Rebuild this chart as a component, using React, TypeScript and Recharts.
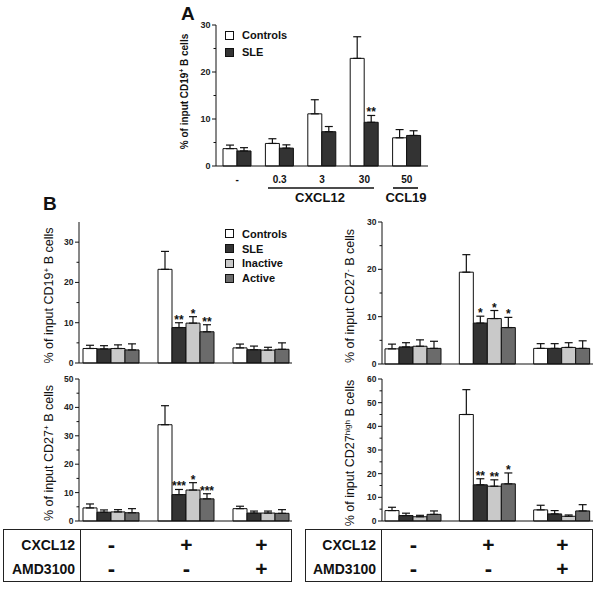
import React from 'react';
import { BarChart, Bar, XAxis, YAxis, ErrorBar, Legend } from 'recharts';

const FONT = '"Liberation Sans", Arial, Helvetica, sans-serif';
const INK = '#111111';

const FILL_CONTROLS = '#ffffff';
const FILL_SLE = '#333333';
const FILL_INACTIVE = '#c9c9c9';
const FILL_ACTIVE = '#6b6b6b';

// ---- panel A : chemokine doses
const doses = ['-', '0.3', '3', '30', '50'];
const aControls = [3.7, 4.8, 11.1, 22.9, 6.0];
const aControlsErr = [0.75, 1.0, 3.0, 4.6, 1.75];
const aControlsStars = ['', '', '', '', ''];
const aSle = [3.2, 3.8, 7.3, 9.3, 6.5];
const aSleErr = [0.7, 0.7, 1.1, 1.45, 1.0];
const aSleStars = ['', '', '', '**', ''];
const aTicks = [0, 5, 10, 15, 20, 25, 30];

// ---- panel B : conditions
const conditions = ['none', 'CXCL12', 'CXCL12 + AMD3100'];
const cxcl12Row = ['-', '+', '+'];
const amdRow = ['-', '-', '+'];
const noStars = ['', '', ''];

// CD19+ B cells
const cd19Controls = [3.6, 23.25, 3.75];
const cd19ControlsErr = [0.8, 4.45, 0.95];
const cd19Sle = [3.5, 8.8, 3.3];
const cd19SleErr = [0.8, 1.2, 0.9];
const cd19SleStars = ['', '**', ''];
const cd19Inactive = [3.6, 9.9, 3.2];
const cd19InactiveErr = [0.9, 1.6, 0.7];
const cd19InactiveStars = ['', '*', ''];
const cd19Active = [3.25, 7.75, 3.4];
const cd19ActiveErr = [1.5, 1.75, 1.6];
const cd19ActiveStars = ['', '**', ''];
const cd19Ticks = [0, 5, 10, 15, 20, 25, 30];

// CD27- B cells
const cd27negControls = [3.2, 19.4, 3.3];
const cd27negControlsErr = [1.0, 3.7, 1.0];
const cd27negSle = [3.6, 8.65, 3.3];
const cd27negSleErr = [0.9, 1.45, 1.0];
const cd27negSleStars = ['', '*', ''];
const cd27negInactive = [3.75, 9.6, 3.5];
const cd27negInactiveErr = [1.35, 1.7, 1.0];
const cd27negInactiveStars = ['', '*', ''];
const cd27negActive = [3.3, 7.7, 3.3];
const cd27negActiveErr = [1.5, 2.15, 1.6];
const cd27negActiveStars = ['', '*', ''];
const cd27negTicks = [0, 5, 10, 15, 20, 25, 30];

// CD27+ B cells
const cd27posControls = [4.6, 33.9, 4.35];
const cd27posControlsErr = [1.4, 6.7, 0.85];
const cd27posSle = [3.1, 9.3, 2.8];
const cd27posSleErr = [0.8, 1.8, 0.7];
const cd27posSleStars = ['', '***', ''];
const cd27posInactive = [3.2, 10.9, 2.8];
const cd27posInactiveErr = [0.8, 2.6, 0.7];
const cd27posInactiveStars = ['', '*', ''];
const cd27posActive = [2.9, 7.8, 2.7];
const cd27posActiveErr = [1.45, 1.8, 1.3];
const cd27posActiveStars = ['', '***', ''];
const cd27posTicks = [0, 5, 10, 15, 20, 25, 30, 35, 40, 45, 50];

// CD27high B cells
const cd27hiControls = [4.4, 45, 4.7];
const cd27hiControlsErr = [1.4, 10.5, 1.95];
const cd27hiSle = [2.3, 15.3, 3.0];
const cd27hiSleErr = [1.0, 2.55, 1.4];
const cd27hiSleStars = ['', '**', ''];
const cd27hiInactive = [1.8, 14.7, 2.0];
const cd27hiInactiveErr = [0.6, 2.7, 0.55];
const cd27hiInactiveStars = ['', '**', ''];
const cd27hiActive = [2.8, 15.7, 4.25];
const cd27hiActiveErr = [1.45, 4.6, 2.65];
const cd27hiActiveStars = ['', '*', ''];
const cd27hiTicks = [0, 5, 10, 15, 20, 25, 30, 35, 40, 45, 50, 55, 60];

type Series = { key: string; name: string; fill: string; vals: number[]; errs: number[]; stars: string[] };

const fourGroups = (
  c: number[], ce: number[],
  s: number[], se: number[], ss: string[],
  i: number[], ie: number[], is: string[],
  a: number[], ae: number[], as: string[]
): Series[] => [
  { key: 'controls', name: 'Controls', fill: FILL_CONTROLS, vals: c, errs: ce, stars: noStars },
  { key: 'sle', name: 'SLE', fill: FILL_SLE, vals: s, errs: se, stars: ss },
  { key: 'inactive', name: 'Inactive', fill: FILL_INACTIVE, vals: i, errs: ie, stars: is },
  { key: 'active', name: 'Active', fill: FILL_ACTIVE, vals: a, errs: ae, stars: as },
];

const toRows = (cats: string[], series: Series[]) =>
  cats.map((cat, i) => {
    const row: any = { cat };
    series.forEach((s) => {
      row[s.key] = s.vals[i];
      row[s.key + 'Err'] = [0, s.errs[i]];
    });
    return row;
  });

// y ticks: long tick + label on majors, short tick on minors
const yTick = (major: number, fs: number) => (p: any) => {
  const { x, y, payload } = p;
  const v = payload.value;
  const isMajor = v % major === 0;
  return (
    <g>
      <line x1={x - (isMajor ? 4 : 2.5)} x2={x} y1={y} y2={y} stroke={INK} strokeWidth={1} />
      {isMajor && (
        <text x={x - 5.5} y={y} dy="0.35em" textAnchor="end" fontSize={fs} fontWeight="bold" fill="#222">
          {v}
        </text>
      )}
    </g>
  );
};

const yLabel = (x: number, cell: string, sup: string, fs: number, bold: boolean, shift: number) => (p: any) => {
  const vb = p.viewBox || {};
  const cy = (vb.y ?? 0) + (vb.height ?? 0) / 2 + shift;
  return (
    <text
      x={x}
      y={cy}
      transform={`rotate(-90 ${x} ${cy})`}
      textAnchor="middle"
      dy="0.35em"
      fontSize={fs}
      fontWeight={bold ? 'bold' : 'normal'}
      fill={INK}
    >
      % of input {cell}
      <tspan dy={-fs * 0.38} fontSize={fs * 0.65}>{sup}</tspan>
      <tspan dy={fs * 0.38}> B cells</tspan>
    </text>
  );
};

// asterisks sit just above the error bar cap
const starLabel = (vals: number[], errs: number[], stars: string[], fs: number) => (p: any) => {
  const idx = p.index;
  const s = stars[idx];
  if (!s) return null;
  const vb = p.viewBox && p.viewBox.width !== undefined ? p.viewBox : p;
  const { x, y, width, height } = vb;
  const top = y - (errs[idx] * height) / vals[idx];
  return (
    <text x={x + width / 2} y={top + 1} textAnchor="middle" fontSize={fs} fontWeight="bold" fill={INK}>
      {s}
    </text>
  );
};

// legend keeps the series order (the default payload gets sorted by name)
const legendContent = (series: Series[], rowH: number) => () => (
  <div>
    {series.map((s) => (
      <div
        key={s.key}
        style={{ display: 'flex', alignItems: 'center', height: rowH, fontSize: 11, fontWeight: 'bold', color: INK, fontFamily: FONT }}
      >
        <span
          style={{
            display: 'inline-block',
            width: 9,
            height: 9,
            boxSizing: 'border-box',
            border: `1px solid ${INK}`,
            background: s.fill,
            marginRight: 8,
          }}
        />
        {s.name}
      </div>
    ))}
  </div>
);

function PanelA() {
  const series: Series[] = [
    { key: 'controls', name: 'Controls', fill: FILL_CONTROLS, vals: aControls, errs: aControlsErr, stars: aControlsStars },
    { key: 'sle', name: 'SLE', fill: FILL_SLE, vals: aSle, errs: aSleErr, stars: aSleStars },
  ];
  const data = toRows(doses, series);
  return (
    <div style={{ position: 'absolute', left: 170, top: 15 }}>
      <BarChart width={268} height={173} data={data} margin={{ top: 10, right: 10, left: 0, bottom: 0 }} barSize={14} barGap={0}>
        <XAxis
          dataKey="cat"
          height={22}
          interval={0}
          tickLine={false}
          tickSize={0}
          tickMargin={10}
          tick={{ fontSize: 10, fontWeight: 'bold', fill: INK }}
          axisLine={{ stroke: INK }}
        />
        <XAxis xAxisId="top" orientation="top" dataKey="cat" height={0} tick={false} tickLine={false} axisLine={{ stroke: INK }} />
        <YAxis
          width={46}
          domain={[0, 30]}
          ticks={aTicks}
          interval={0}
          tickSize={0}
          tickMargin={0}
          tickLine={false}
          tick={yTick(10, 9)}
          axisLine={{ stroke: INK }}
          label={yLabel(14, 'CD19', '+', 10, true, -4)}
        />
        <YAxis yAxisId="right" orientation="right" width={0} domain={[0, 30]} tick={false} tickLine={false} axisLine={{ stroke: INK }} />
        <Legend
          layout="horizontal"
          verticalAlign="middle"
          align="center"
          content={legendContent(series, 17)}
          wrapperStyle={{ left: 55, top: 11.5, width: 'auto', height: 'auto' }}
        />
        {series.map((s) => (
          <Bar
            key={s.key}
            dataKey={s.key}
            name={s.name}
            fill={s.fill}
            stroke={INK}
            strokeWidth={1}
            isAnimationActive={false}
            label={starLabel(s.vals, s.errs, s.stars, 12)}
          >
            <ErrorBar dataKey={s.key + 'Err'} width={4} stroke={INK} strokeWidth={1.2} direction="y" isAnimationActive={false} />
          </Bar>
        ))}
      </BarChart>
    </div>
  );
}

function PanelB(props: {
  left: number;
  top: number;
  yW: number;
  plotW: number;
  plotH: number;
  max: number;
  ticks: number[];
  series: Series[];
  labelX: number;
  cell: string;
  sup: string;
  legend?: boolean;
}) {
  const { left, top, yW, plotW, plotH, max, ticks, series, labelX, cell, sup, legend } = props;
  const data = toRows(conditions, series);
  const width = 300;
  return (
    <div style={{ position: 'absolute', left, top }}>
      <BarChart
        width={width}
        height={10 + plotH + 2 + 6}
        data={data}
        margin={{ top: 10, right: width - yW - plotW, left: 0, bottom: 6 }}
        barSize={14}
        barGap={0}
      >
        <XAxis dataKey="cat" height={2} tick={false} tickLine={false} axisLine={{ stroke: INK }} padding={{ left: -6, right: -6 }} />
        <XAxis xAxisId="top" orientation="top" dataKey="cat" height={0} tick={false} tickLine={false} axisLine={{ stroke: INK }} />
        <YAxis
          width={yW}
          domain={[0, max]}
          ticks={ticks}
          interval={0}
          tickSize={0}
          tickMargin={0}
          tickLine={false}
          tick={yTick(10, 8.5)}
          axisLine={{ stroke: INK }}
          label={yLabel(labelX, cell, sup, 12.5, false, 3)}
        />
        <YAxis yAxisId="right" orientation="right" width={0} domain={[0, max]} tick={false} tickLine={false} axisLine={{ stroke: INK }} />
        {legend && (
          <Legend
            layout="horizontal"
            verticalAlign="middle"
            align="center"
            content={legendContent(series, 14.7)}
            wrapperStyle={{ left: 225, top: 14.6, width: 'auto', height: 'auto' }}
          />
        )}
        {series.map((s) => (
          <Bar
            key={s.key}
            dataKey={s.key}
            name={s.name}
            fill={s.fill}
            stroke={INK}
            strokeWidth={1}
            isAnimationActive={false}
            label={starLabel(s.vals, s.errs, s.stars, 12)}
          >
            <ErrorBar dataKey={s.key + 'Err'} width={4} stroke={INK} strokeWidth={1.2} direction="y" isAnimationActive={false} />
          </Bar>
        ))}
      </BarChart>
    </div>
  );
}

function CondTable(props: { left: number; right: number; divider: number; centers: number[] }) {
  const { left, right, divider, centers } = props;
  const rows = [
    { label: 'CXCL12', marks: cxcl12Row, y: 15 },
    { label: 'AMD3100', marks: amdRow, y: 39 },
  ];
  return (
    <div
      style={{
        position: 'absolute',
        left,
        top: 529,
        width: right - left,
        height: 53,
        border: '1.5px solid #222',
        boxSizing: 'border-box',
      }}
    >
      <div style={{ position: 'absolute', left: divider - left - 1.5, top: 0, bottom: 0, borderLeft: '1.5px solid #222' }} />
      {rows.map((r) => (
        <React.Fragment key={r.label}>
          <div
            style={{
              position: 'absolute',
              right: right - divider + 4,
              top: r.y - 9,
              height: 18,
              lineHeight: '18px',
              fontSize: 14,
              fontWeight: 'bold',
              whiteSpace: 'nowrap',
            }}
          >
            {r.label}
          </div>
          {r.marks.map((m, i) => (
            <div
              key={i}
              style={{
                position: 'absolute',
                left: centers[i] - left - 15,
                width: 30,
                textAlign: 'center',
                top: r.y - 10,
                height: 20,
                lineHeight: '20px',
                fontSize: m === '-' ? 22 : 21,
                fontWeight: 'bold',
              }}
            >
              {m}
            </div>
          ))}
        </React.Fragment>
      ))}
    </div>
  );
}

export default function App() {
  const cd19 = fourGroups(
    cd19Controls, cd19ControlsErr,
    cd19Sle, cd19SleErr, cd19SleStars,
    cd19Inactive, cd19InactiveErr, cd19InactiveStars,
    cd19Active, cd19ActiveErr, cd19ActiveStars
  );
  const cd27neg = fourGroups(
    cd27negControls, cd27negControlsErr,
    cd27negSle, cd27negSleErr, cd27negSleStars,
    cd27negInactive, cd27negInactiveErr, cd27negInactiveStars,
    cd27negActive, cd27negActiveErr, cd27negActiveStars
  );
  const cd27pos = fourGroups(
    cd27posControls, cd27posControlsErr,
    cd27posSle, cd27posSleErr, cd27posSleStars,
    cd27posInactive, cd27posInactiveErr, cd27posInactiveStars,
    cd27posActive, cd27posActiveErr, cd27posActiveStars
  );
  const cd27hi = fourGroups(
    cd27hiControls, cd27hiControlsErr,
    cd27hiSle, cd27hiSleErr, cd27hiSleStars,
    cd27hiInactive, cd27hiInactiveErr, cd27hiInactiveStars,
    cd27hiActive, cd27hiActiveErr, cd27hiActiveStars
  );

  return (
    <div
      style={{
        position: 'absolute',
        left: 0,
        top: 0,
        width: 600,
        height: 592,
        background: '#fff',
        fontFamily: FONT,
        color: INK,
        overflow: 'hidden',
      }}
    >
      <PanelA />
      <PanelB left={0} top={212} yW={79} plotW={213} plotH={141} max={35} ticks={cd19Ticks} series={cd19} labelX={49} cell="CD19" sup="+" legend />
      <PanelB left={300} top={212} yW={82} plotW={211} plotH={142} max={30} ticks={cd27negTicks} series={cd27neg} labelX={50} cell="CD27" sup="-" />
      <PanelB left={0} top={369} yW={79} plotW={213} plotH={142} max={50} ticks={cd27posTicks} series={cd27pos} labelX={49} cell="CD27" sup="+" />
      <PanelB left={300} top={369} yW={82} plotW={211} plotH={142} max={60} ticks={cd27hiTicks} series={cd27hi} labelX={50} cell="CD27" sup="high" />

      <svg width={600} height={592} style={{ position: 'absolute', left: 0, top: 0, pointerEvents: 'none' }}>
        <text x={181} y={20} fontSize={19} fontWeight="bold" fill={INK}>A</text>
        <text x={43} y={210} fontSize={19} fontWeight="bold" fill={INK}>B</text>
        <line x1={268} x2={374} y1={188} y2={188} stroke={INK} strokeWidth={1.6} />
        <line x1={393} x2={418} y1={188} y2={188} stroke={INK} strokeWidth={1.6} />
        <text x={320} y={202} textAnchor="middle" fontSize={13} fontWeight="bold" fill={INK}>CXCL12</text>
        <text x={406} y={202} textAnchor="middle" fontSize={13} fontWeight="bold" fill={INK}>CCL19</text>
      </svg>

      <CondTable left={3} right={292} divider={80} centers={[110.5, 185.5, 260.5]} />
      <CondTable left={305} right={593} divider={381} centers={[412.5, 487.5, 561.5]} />
    </div>
  );
}
